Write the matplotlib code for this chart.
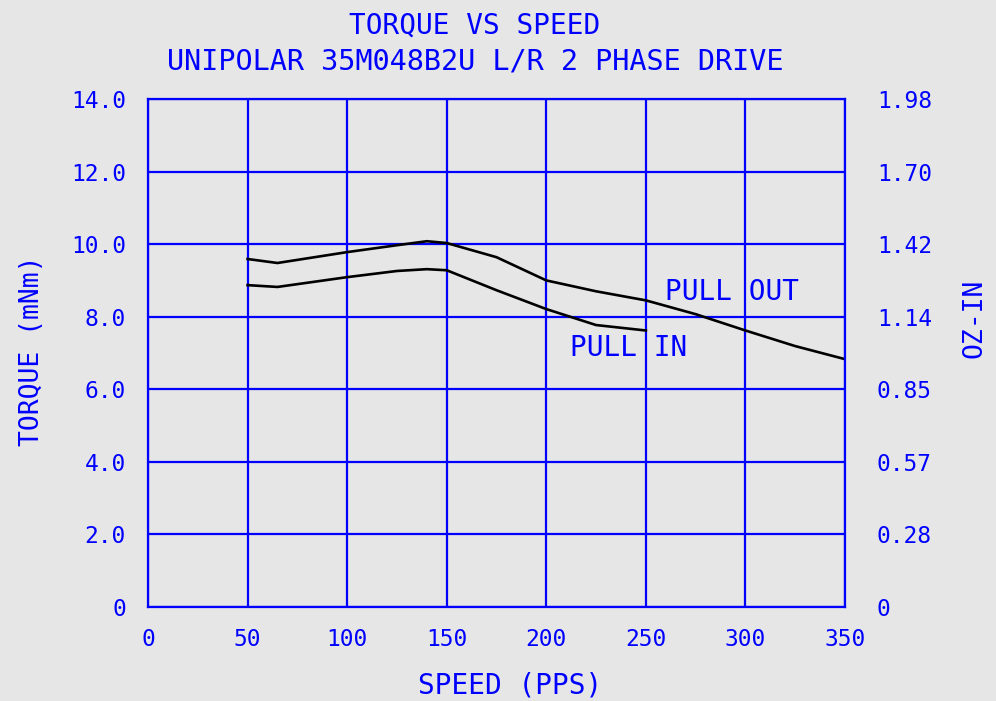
import matplotlib
matplotlib.use("Agg")
import matplotlib.pyplot as plt

# Torque curves (speed in PPS, torque in mNm)
pull_out_speed = [50, 65, 100, 125, 140, 150, 175, 200, 225, 250, 275, 300, 325, 350]
pull_out_torque = [9.59, 9.48, 9.78, 9.97, 10.08, 10.03, 9.64, 9.0, 8.70, 8.45, 8.07, 7.62, 7.19, 6.83]

pull_in_speed = [50, 65, 100, 125, 140, 150, 175, 200, 225, 250]
pull_in_torque = [8.87, 8.82, 9.09, 9.26, 9.31, 9.28, 8.73, 8.21, 7.77, 7.62]

x_ticks = [0, 50, 100, 150, 200, 250, 300, 350]
y_ticks = [0, 2, 4, 6, 8, 10, 12, 14]
y_labels = ["0", "2.0", "4.0", "6.0", "8.0", "10.0", "12.0", "14.0"]
oz_labels = ["0", "0.28", "0.57", "0.85", "1.14", "1.42", "1.70", "1.98"]

blue = "#0000ff"
bg = "#e6e6e6"
mono = "DejaVu Sans Mono"

fig = plt.figure(figsize=(9.96, 7.01), dpi=100, facecolor=bg)
ax = fig.add_axes([0.1486, 0.1341, 0.6998, 0.7247], facecolor=bg)

ax.plot(pull_out_speed, pull_out_torque, color="black", lw=1.9)
ax.plot(pull_in_speed, pull_in_torque, color="black", lw=1.9)

ax.set_xlim(0, 350)
ax.set_ylim(0, 14)
ax.set_xticks(x_ticks)
ax.set_yticks(y_ticks)
ax.set_yticklabels(y_labels)
ax.grid(True, color=blue, lw=1.6)
ax.set_axisbelow(True)
for s in ax.spines.values():
    s.set_color(blue)
    s.set_linewidth(1.6)
ax.tick_params(length=0, colors=blue, labelsize=16.5)
ax.tick_params(axis="x", pad=15)
ax.tick_params(axis="y", pad=16)
for lab in ax.get_xticklabels() + ax.get_yticklabels():
    lab.set_family(mono)

ax2 = ax.twinx()
ax2.set_ylim(0, 14)
ax2.set_yticks(y_ticks)
ax2.set_yticklabels(oz_labels, family=mono)
ax2.tick_params(length=0, colors=blue, labelsize=16.5, pad=23)
for s in ax2.spines.values():
    s.set_visible(False)

ax.text(259.5, 8.68, "PULL OUT", color=blue, family=mono, fontsize=20, va="center", ha="left")
ax.text(212, 7.13, "PULL IN", color=blue, family=mono, fontsize=20, va="center", ha="left")

fig.text(0.477, 0.964, "TORQUE VS SPEED", color=blue, family=mono, fontsize=20, ha="center", va="center")
fig.text(0.477, 0.912, "UNIPOLAR 35M048B2U L/R 2 PHASE DRIVE", color=blue, family=mono,
         fontsize=20.5, ha="center", va="center")
fig.text(0.512, 0.022, "SPEED (PPS)", color=blue, family=mono, fontsize=20, ha="center", va="center")
fig.text(0.032, 0.5, "TORQUE (mNm)", color=blue, family=mono, fontsize=19, ha="center", va="center",
         rotation=90)
fig.text(0.978, 0.546, "OZ-IN", color=blue, family=mono, fontsize=19, ha="center", va="center",
         rotation=90)

fig.savefig("out.png", dpi=100, facecolor=bg)
